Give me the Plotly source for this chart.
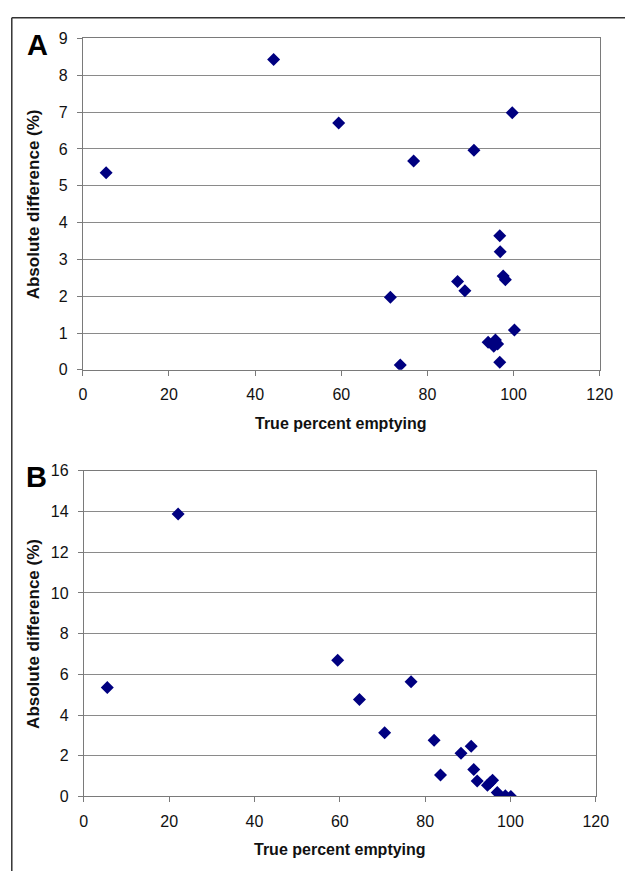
import plotly.graph_objects as go

# Figure fills the whole 638x880 window; the page margin is removed after load.
W, H = 638, 880

# Panel A data
a_x = [5.4, 44.3, 59.4, 76.8, 90.8, 99.7, 71.4, 73.7, 96.8, 96.9, 87.0, 88.7,
       97.6, 98.1, 100.2, 94.1, 95.8, 95.4, 96.3, 96.8]
a_y = [5.35, 8.43, 6.70, 5.67, 5.96, 6.98, 1.97, 0.13, 3.64, 3.21, 2.40, 2.15,
       2.55, 2.45, 1.08, 0.75, 0.81, 0.64, 0.70, 0.21]

# Panel B data
b_x = [5.5, 22.1, 59.5, 64.6, 70.5, 76.7, 82.1, 83.6, 88.4, 90.8, 91.4, 92.2,
       94.6, 95.8, 95.2, 96.9, 98.8, 100.1]
b_y = [5.35, 13.88, 6.70, 4.77, 3.13, 5.64, 2.76, 1.05, 2.12, 2.47, 1.32, 0.76,
       0.55, 0.80, 0.67, 0.19, 0.03, 0.0]

x_ticks = [0, 20, 40, 60, 80, 100, 120]
a_yticks = list(range(0, 10))
b_yticks = list(range(0, 17, 2))

x_title = "True percent emptying"
y_title = "Absolute difference (%)"

def px(x):
    return x / W

def py(y):
    return 1 - y / H

NAVY = "#000080"
GRID = "#8a8a8a"
AXIS = "#7a7a7a"
FONT = "Liberation Sans, Arial, sans-serif"

fig = go.Figure()
fig.add_trace(go.Scatter(x=a_x, y=a_y, mode="markers", xaxis="x", yaxis="y",
                         marker=dict(symbol="diamond", size=10, color=NAVY),
                         showlegend=False, hoverinfo="skip"))
fig.add_trace(go.Scatter(x=b_x, y=b_y, mode="markers", xaxis="x2", yaxis="y2",
                         marker=dict(symbol="diamond", size=10, color=NAVY),
                         showlegend=False, hoverinfo="skip"))

common_x = dict(range=[0, 120], tickvals=x_ticks, showgrid=False, zeroline=False,
                showline=True, linecolor=AXIS, linewidth=1, mirror=True,
                ticks="outside", ticklen=5, tickcolor=AXIS,
                tickfont=dict(family=FONT, size=16, color="#111"),
                ticklabelstandoff=5)
common_y = dict(showgrid=True, gridcolor=GRID, gridwidth=1, zeroline=False,
                showline=True, linecolor=AXIS, linewidth=1, mirror=True,
                ticks="outside", ticklen=5, tickcolor=AXIS,
                tickfont=dict(family=FONT, size=16, color="#111"),
                ticklabelstandoff=6)

fig.update_layout(
    width=W, height=H,
    margin=dict(l=0, r=0, t=0, b=0),
    paper_bgcolor="white", plot_bgcolor="white",
    xaxis=dict(domain=[px(81), px(612)], anchor="y", **common_x),
    yaxis=dict(domain=[py(369), py(31)], anchor="x", range=[0, 9],
               tickvals=a_yticks, **common_y),
    xaxis2=dict(domain=[px(82), px(608)], anchor="y2", **common_x),
    yaxis2=dict(domain=[py(804), py(472)], anchor="x2", range=[0, 16],
                tickvals=b_yticks, **common_y),
)

bold = dict(family=FONT, size=16, color="#111")
ann = [
    dict(text="<b>A</b>", x=px(34), y=py(38), font=dict(family=FONT, size=29, color="#000")),
    dict(text="<b>B</b>", x=px(33), y=py(478), font=dict(family=FONT, size=29, color="#000")),
    dict(text=f"<b>{x_title}</b>", x=px(346), y=py(424), font=bold),
    dict(text=f"<b>{x_title}</b>", x=px(345), y=py(858), font=bold),
    dict(text=f"<b>{y_title}</b>", x=px(30), y=py(200), textangle=-90,
         font=dict(family=FONT, size=17, color="#111")),
    dict(text=f"<b>{y_title}</b>", x=px(30), y=py(638), textangle=-90,
         font=dict(family=FONT, size=17, color="#111")),
]
for a in ann:
    a.update(xref="paper", yref="paper", showarrow=False, xanchor="center", yanchor="middle")
fig.update_layout(annotations=ann)

# outer frame: only its left and top edges fall inside the picture
frame = dict(color="#333", width=1.5)
fig.add_shape(type="line", xref="paper", yref="paper",
              x0=px(8), y0=0, x1=px(8), y1=py(10), line=frame)
fig.add_shape(type="line", xref="paper", yref="paper",
              x0=px(8), y0=py(10), x1=1, y1=py(10), line=frame)

fig.write_html(
    "out.html",
    config={"displayModeBar": False, "staticPlot": True},
    post_script="document.body.style.margin='0';document.body.style.overflow='hidden';",
)
